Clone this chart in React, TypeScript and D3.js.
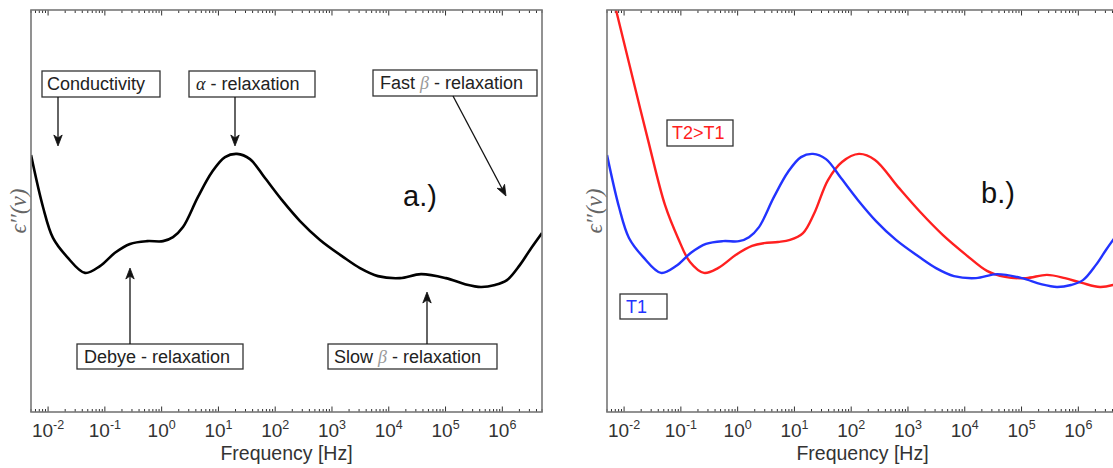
import React from "react";
import * as d3 from "d3";

// ---- data ----
// log10 of frequency [Hz] and epsilon'' (arbitrary units) for T1 (also panel a)
const logFreqT1 = [-2.30, -2.09, -1.914, -1.667, -1.35, -1.086, -0.822, -0.557, -0.258, 0.024, 0.2, 0.376, 0.64, 0.887, 1.116, 1.327, 1.556, 1.82, 2.12, 2.437, 2.789, 3.194, 3.493, 3.81, 4.198, 4.568, 5.008, 5.343, 5.624, 5.871, 6.082, 6.311, 6.487, 6.699];
const epsT1 = [6.39, 5.10, 4.33, 3.86, 3.46, 3.63, 3.96, 4.18, 4.25, 4.25, 4.35, 4.60, 5.35, 5.97, 6.34, 6.42, 6.29, 5.82, 5.27, 4.75, 4.28, 3.86, 3.58, 3.38, 3.33, 3.43, 3.33, 3.18, 3.11, 3.16, 3.28, 3.66, 4.03, 4.45];

// T2 > T1
const logFreqT2 = [-2.301, -2.142, -1.896, -1.579, -1.28, -1.051, -0.839, -0.593, -0.346, -0.029, 0.253, 0.464, 0.711, 0.922, 1.151, 1.345, 1.591, 1.838, 2.137, 2.419, 2.824, 3.212, 3.616, 4.022, 4.391, 4.709, 5.078, 5.448, 5.765, 6.065, 6.382, 6.61, 6.699];
const epsT2 = [10.92, 10.0, 8.58, 6.77, 5.15, 4.33, 3.73, 3.46, 3.58, 3.91, 4.13, 4.20, 4.23, 4.28, 4.45, 4.93, 5.77, 6.22, 6.42, 6.27, 5.60, 4.98, 4.40, 3.91, 3.51, 3.36, 3.33, 3.41, 3.33, 3.21, 3.11, 3.16, 3.21];

const freqDomain = [5e-3, 5e6];
const epsDomain = [0, 10];
const majorExponents = [-2, -1, 0, 1, 2, 3, 4, 5, 6];
const xTitle = "Frequency [Hz]";

const W = 1113;
const H = 468;
const TOP = 10;
const BOTTOM = 412;
const SANS = "'Liberation Sans', Arial, Helvetica, sans-serif";
const SERIF = "'Liberation Serif', 'DejaVu Serif', serif";

type Pt = [number, number];
const toPts = (lf: number[], v: number[]): Pt[] => lf.map((l, i) => [Math.pow(10, l), v[i]]);

function Arrow({ x1, y1, x2, y2 }: { x1: number; y1: number; x2: number; y2: number }) {
  const a = Math.atan2(y2 - y1, x2 - x1);
  const L = 11, Wd = 4.2, N = 8;
  const cx = Math.cos(a), sy = Math.sin(a);
  const bx = x2 - L * cx, by = y2 - L * sy;
  const nx = x2 - N * cx, ny = y2 - N * sy;
  const px = -sy, py = cx;
  const head = `M${x2},${y2} L${bx + Wd * px},${by + Wd * py} L${nx},${ny} L${bx - Wd * px},${by - Wd * py} Z`;
  return (
    <g>
      <line x1={x1} y1={y1} x2={nx} y2={ny} stroke="#111" strokeWidth={1.3} />
      <path d={head} fill="#111" stroke="#111" strokeWidth={0.8} strokeLinejoin="miter" />
    </g>
  );
}

function Box({ x, y, w, h, tx, color = "#222", children }: any) {
  return (
    <g>
      <rect x={x} y={y} width={w} height={h} fill="#fff" stroke="#333" strokeWidth={1.3} />
      <text x={tx} y={y + 19.3} fontFamily={SANS} fontSize={18} fill={color}>
        {children}
      </text>
    </g>
  );
}

function Panel({ left, right, id, children }: { left: number; right: number; id: string; children: (x: any, y: any) => React.ReactNode }) {
  const x = d3.scaleLog().domain(freqDomain).range([left, right]);
  const y = d3.scaleLinear().domain(epsDomain).range([BOTTOM, TOP]);
  const ticks: { v: number; major: boolean }[] = [];
  for (let e = -3; e <= 6; e++) {
    for (let m = 1; m <= 9; m++) {
      const v = m * Math.pow(10, e);
      if (v >= freqDomain[0] && v <= freqDomain[1]) ticks.push({ v, major: m === 1 });
    }
  }
  return (
    <g>
      <defs>
        <clipPath id={`clip-${id}`}>
          <rect x={left} y={TOP} width={right - left} height={BOTTOM - TOP} />
        </clipPath>
      </defs>
      {ticks.map((t, i) => {
        const xx = x(t.v);
        const len = t.major ? 5.5 : 3;
        return (
          <g key={i}>
            <line x1={xx} x2={xx} y1={BOTTOM} y2={BOTTOM - len} stroke="#333" strokeWidth={1} />
            <line x1={xx} x2={xx} y1={TOP} y2={TOP + len} stroke="#333" strokeWidth={1} />
          </g>
        );
      })}
      {majorExponents.map((e) => (
        <text key={e} x={x(Math.pow(10, e))} y={437} textAnchor="middle" fontFamily={SANS} fontSize={19} fill="#333">
          <tspan>10</tspan>
          <tspan dy={-8} fontSize={12.5}>{String(e)}</tspan>
        </text>
      ))}
      <text x={(left + right) / 2} y={460} textAnchor="middle" fontFamily={SANS} fontSize={19.5} fill="#333">
        {xTitle}
      </text>
      <text
        transform={`translate(${left - 13},211) rotate(-90)`}
        textAnchor="middle"
        dominantBaseline="central"
        fontFamily={SERIF}
        fontStyle="italic"
        fontSize={23}
        fill="#666"
      >
        ϵ′′(ν)
      </text>
      <g clipPath={`url(#clip-${id})`}>{children(x, y)}</g>
      <rect x={left} y={TOP} width={right - left} height={BOTTOM - TOP} fill="none" stroke="#777" strokeWidth={1.6} />
    </g>
  );
}

export default function App() {
  const makeLine = (x: any, y: any) =>
    d3
      .line<Pt>()
      .x((d) => x(d[0]))
      .y((d) => y(d[1]))
      .curve(d3.curveCatmullRom.alpha(0.5));
  const t1 = toPts(logFreqT1, epsT1);
  const t2 = toPts(logFreqT2, epsT2);
  const greek = (c: string, col: string) => (
    <tspan fontFamily={SERIF} fontStyle="italic" fill={col}>{c}</tspan>
  );
  return (
    <svg width={W} height={H} style={{ position: "absolute", left: 0, top: 0, background: "#fff" }}>
      <rect x={0} y={0} width={W} height={H} fill="#fff" />
      <Panel left={31} right={542} id="a">
        {(x, y) => (
          <path d={makeLine(x, y)(t1) || ""} fill="none" stroke="#000" strokeWidth={2.6} />
        )}
      </Panel>
      <Panel left={607} right={1118} id="b">
        {(x, y) => (
          <g>
            <path d={makeLine(x, y)(t2) || ""} fill="none" stroke="#ff2020" strokeWidth={2.4} />
            <path d={makeLine(x, y)(t1) || ""} fill="none" stroke="#2233ff" strokeWidth={2.4} />
          </g>
        )}
      </Panel>

      {/* panel a annotations */}
      <Box x={42} y={71} w={118} h={26} tx={47}>Conductivity</Box>
      <Arrow x1={58} y1={97} x2={58} y2={146} />
      <Box x={189} y={71} w={126} h={26} tx={196}>{greek("α", "#222")} - relaxation</Box>
      <Arrow x1={235} y1={97} x2={235} y2={146} />
      <Box x={373} y={70} w={164} h={26} tx={380}>Fast {greek("β", "#999")} - relaxation</Box>
      <Arrow x1={453} y1={96} x2={506} y2={196} />
      <Box x={77} y={344} w={166} h={25} tx={84}>Debye - relaxation</Box>
      <Arrow x1={130} y1={344} x2={130} y2={268} />
      <Box x={328} y={344} w={169} h={25} tx={334}>Slow {greek("β", "#999")} - relaxation</Box>
      <Arrow x1={427} y1={344} x2={427} y2={292} />
      <text x={403} y={206} fontFamily={SANS} fontSize={29} fill="#111">a.)</text>

      {/* panel b annotations */}
      <Box x={667} y={120} w={66} h={26} tx={672} color="#ff2020">T2&gt;T1</Box>
      <Box x={620} y={294} w={47} h={25} tx={626} color="#2233ff">T1</Box>
      <text x={981} y={203} fontFamily={SANS} fontSize={29} fill="#111">b.)</text>
    </svg>
  );
}
